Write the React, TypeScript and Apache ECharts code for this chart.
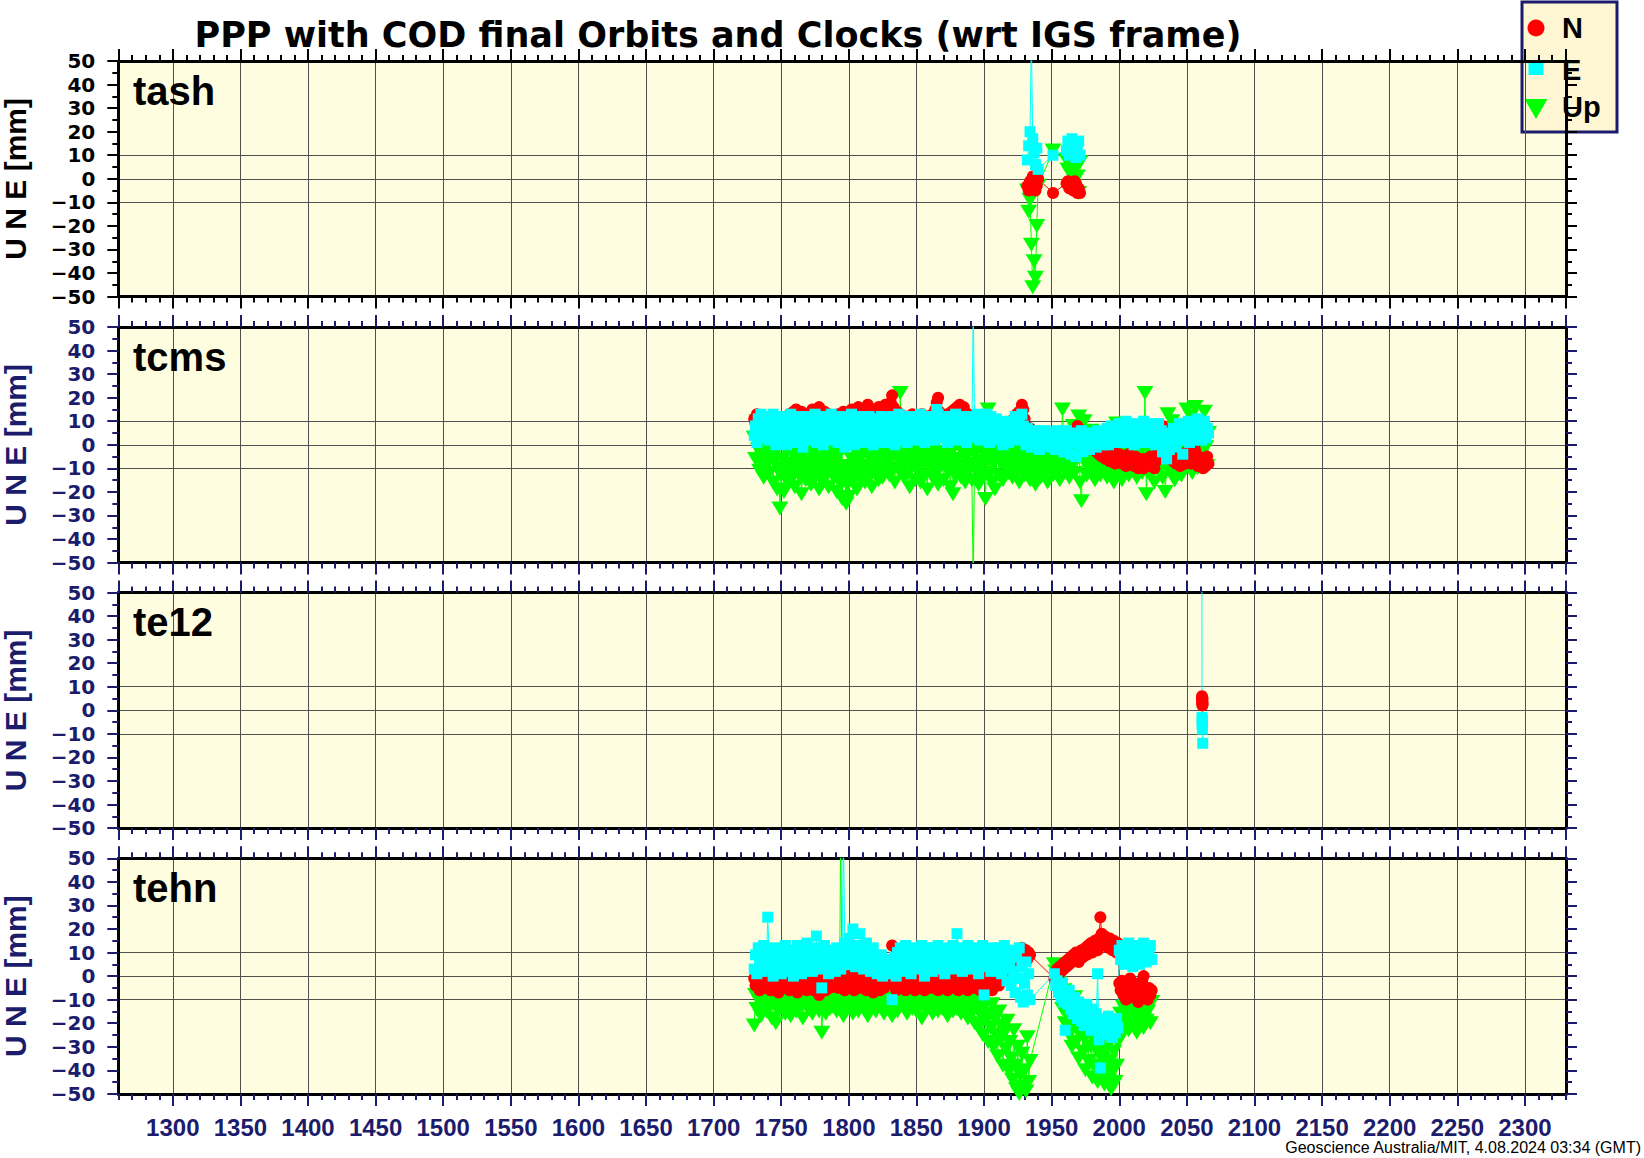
import React, { useEffect, useRef } from "react";
import * as echarts from "echarts";

// ---------------- texts ----------------
const TITLE = "PPP with COD final Orbits and Clocks (wrt IGS frame)";
const FOOTER = "Geoscience Australia/MIT, 4.08.2024 03:34 (GMT)";
const Y_NAME = "U N E [mm]";
const STATIONS = ["tash", "tcms", "te12", "tehn"];
const LEGEND_ITEMS = ["N", "E", "Up"];

// ---------------- axes ----------------
const WEEK_MIN = 1259.7;
const WEEK_MAX = 2330.4;
const MM_MIN = -50;
const MM_MAX = 50;
const MM_STEP = 10;
const MM_GRID_LINES = [-10, 0, 10];

// ---------------- data (GPS week, mm) ----------------
const seq = (start: number, step: number, count: number) =>
  Array.from({ length: count }, (_, i) => start + i * step);

// tash
const tashWeeks = [1932, 1933, 1934, 1935, 1936, 1937, 1938, 1939, 1940, 1951,
  1961, 1962, 1963, 1964, 1965, 1966, 1967, 1968, 1969, 1970, 1971];
const tashN = [-3, -5, -1, -4, 1, -2, -5, -3, 0, -6,
  -2, -1, -4, -2, -3, -5, -1, -2, -6, -4, -6];
const tashE = [8, 14, 20, 60, 17, 11, 6, 13, 4, 10,
  12, 16, 10, 14, 17, 11, 15, 9, 13, 16, 10];
const tashUp = [-5, -14, -9, -28, -46, -35, -42, -20, -3, 12,
  8, 4, 10, 2, 6, -3, 9, 5, 1, -6, 7];

// tcms (weekly from 1730)
const tcmsStart = 1730;
const tcmsStep = 1;
const tcmsN = [
  11, 9, 13, 8, 10, 6, 9, 12, 7, 10,
  8, 11, 6, 9, 12, 7, 10, 5, 9, 11,
  6, 9, 4, 8, 11, 7, 13, 9, 6, 14,
  10, 15, 12, 8, 11, 14, 9, 12, 7, 10,
  13, 9, 11, 15, 10, 8, 14, 11, 16, 9,
  12, 10, 14, 8, 11, 13, 9, 12, 10, 7,
  11, 9, 13, 10, 7, 12, 14, 8, 11, 9,
  13, 10, 15, 12, 9, 14, 11, 16, 10, 13,
  12, 15, 11, 14, 17, 12, 10, 15, 13, 11,
  14, 12, 16, 13, 10, 15, 12, 17, 14, 11,
  15, 18, 21, 16, 13, 11, 14, 10, 12, 9,
  11, 8, 12, 10, 7, 11, 9, 13, 8, 10,
  9, 12, 7, 10, 13, 8, 11, 9, 12, 6,
  10, 8, 13, 11, 15, 18, 20, 14, 11, 9,
  12, 8, 10, 13, 11, 9, 14, 12, 15, 10,
  16, 13, 17, 15, 12, 16, 14, 11, 13, 10,
  9, 12, 8, 11, 10, 7, 12, 9, 11, 8,
  10, 7, 9, 12, 8, 6, 10, 8, 5, 9,
  7, 4, 8, 6, 3, 7, 5, 9, 6, 8,
  10, 7, 11, 9, 13, 10, 14, 12, 17, 15,
  11, 8, 6, 4, 7, 3, 5, 2, 4, 1,
  3, 0, 2, 4, 1, -1, 3, 0, 2, 1,
  0, 2, -1, 1, 3, 0, -2, 2, 1, -1,
  1, 3, 0, 2, 4, 1, 5, 3, 6, 8,
  7, 4, 5, 2, 3, 1, 4, 0, 2, -1,
  1, -2, 0, -3, -1, -4, -2, -5, -3, -4,
  -6, -3, -5, -7, -4, -6, -3, -8, -5, -7,
  -4, -6, -8, -5, -7, -9, -6, -4, -8, -6,
  -7, -9, -5, -8, -10, -7, -9, -6, -10, -8,
  -6, -9, -7, -5, -8, -6, -10, -7, -4, -6,
  3, 6, 8, 5, 2, -3, -5, -2, -6, -4,
  -7, -5, -8, -3, -6, -9, -4, -7, -5, -8,
  -3, -6, -4, -8, -5, -7, -2, -6, -9, -5,
  -8, -6, -10, -7, -9, -5, -8,
];
const tcmsE = [
  4, 8, 1, 11, 6, 13, 3, 9, 5, 12,
  7, 2, 10, 5, 13, 8, 0, 11, 4, 9,
  6, 12, 2, 8, 0, 10, 5, 13, 3, 7,
  11, 1, 9, 4, 12, 6, -1, 8, 3, 10,
  5, 12, 2, 9, 7, 13, 1, 6, 11, 4,
  8, 0, 12, 5, 10, 3, 7, 13, 2, 9,
  6, 11, 1, 8, 4, 12, 7, -1, 10, 5,
  9, 2, 13, 6, 0, 11, 4, 8, 12, 3,
  7, 10, 1, 9, 5, 12, 3, 8, 0, 11,
  6, 2, 10, 4, 12, 7, 1, 9, 5, 11,
  3, 8, 12, 6, 0, 10, 4, 13, 7, 2,
  9, 5, 11, 1, 8, 12, 4, 10, 6, 2,
  11, 7, 3, 13, 5, 9, 1, 12, 6, 10,
  4, 8, 12, 2, 9, 15, 13, 6, 10, 3,
  11, 5, 8, 1, 12, 7, 3, 10, 6, 13,
  2, 9, 5, 11, 4, 12, 8, 1, 10, 6,
  12, 3, 60, 9, 5, 13, 7, 2, 11, 6,
  10, 4, 13, 8, 1, 12, 6, 9, 3, 11,
  7, 2, 9, 5, 0, 8, 4, 10, 1, 6,
  3, 9, 5, 12, 7, 2, 10, 6, 13, 8,
  5, 0, 7, 3, 6, -1, 4, 2, 6, 1,
  4, -2, 5, 1, 3, 6, 0, 4, -1, 3,
  5, 1, 3, -2, 6, 2, 4, 0, 5, -3,
  2, 6, 0, 4, -4, 3, 1, 5, -5, 2,
  4, 0, 6, -3, 2, 5, 1, 3, -2, 4,
  0, 5, 2, -1, 6, 3, 1, 4, 0, 5,
  2, 7, 0, 4, 8, 2, 5, 1, 6, 3,
  9, 4, 7, 1, 6, 10, 3, 8, 2, 5,
  9, 0, 6, 3, 8, 1, 7, 4, 10, 2,
  6, 9, 1, 5, 8, 3, 7, 0, 4, 9,
  2, 6, -3, 4, 0, -6, 3, -2, 5, 1,
  7, 3, -1, 5, 9, 2, 6, -4, 4, 8,
  3, 10, 1, 6, 9, 2, 7, 4, 11, 5,
  8, 2, 6, 10, 3, 7, 5,
];
const tcmsUp = [
  3, -6, 10, -2, -11, 1, -8, -14, -4, -9,
  -1, -12, -5, 0, -16, -7, -3, -19, -10, -27,
  -13, -6, -20, -2, -11, -16, 2, -8, -14, -4,
  -18, -9, -1, -13, -6, -21, -10, -3, -15, -7,
  -12, -2, -17, -8, -4, -14, 0, -11, -19, -6,
  -9, -15, -3, -12, -7, -18, -1, -10, -5, -14,
  -8, -20, -11, -4, -16, -23, -9, -13, -25, -17,
  -22, -10, -6, -15, -2, -12, -19, -7, -14, -4,
  -11, -3, -16, -9, -1, -13, -6, -18, -8, -2,
  -12, -5, -15, 3, -9, -14, -4, -10, -7, -1,
  -13, -6, -2, -10, -16, -5, 0, -11, 22, -8,
  -3, -14, -7, -1, -12, -18, -5, -9, -2, -15,
  -6, -11, -1, -16, -8, -3, -13, -7, -19, -4,
  -10, -2, -14, -6, 0, -12, -17, -5, -9, -3,
  -15, -7, 2, -11, -4, -18, -8, -21, -1, -13,
  -6, -10, 0, -14, -3, -9, -16, -5, -12, -2,
  -8, -15, -60, -4, -11, -1, -17, -7, -13, -3,
  -9, -23, -5, 15, -12, -2, -16, -8, -19, -6,
  -3, -13, -7, -1, -15, -5, -10, -2, -12, -8,
  -4, -14, -9, -1, -11, -6, -16, -3, -10, -7,
  -13, -2, -9, -5, -15, -1, -11, -7, -17, -4,
  -10, -3, -14, -6, -1, -12, -8, -16, -2, -9,
  -5, -13, 1, -8, -3, -11, -15, -6, 15, -2,
  -10, 5, -7, -14, -1, -9, 8, -12, -4, -6,
  12, -16, -24, -3, 10, -8, -13, -1, -7, 6,
  -11, -4, -15, -2, -9, 3, -13, -6, -1, -10,
  -5, -14, 2, -8, -3, -11, -16, -6, 9, -12,
  -2, -9, -15, -4, 1, -10, -7, -13, -3, -8,
  -11, -1, -6, -14, 5, -9, -2, -12, -5, 22,
  -21, -7, -3, -13, 0, -10, -16, -6, -1, -11,
  -8, 4, -14, -3, -20, -9, 13, -6, -12, 10,
  -2, -15, -7, 0, -11, -4, -13, -1, -8, -5,
  15, -9, -3, 12, -12, -6, 16, -2, -10, 8,
  -4, 3, -7, 14, -1, -9, 5,
];

// te12
const te12Weeks = [2061.1, 2061.2, 2061.3, 2061.4, 2061.5, 2061.6, 2061.7];
const te12N = [5, 6, 3, 4, 2, 5, 3];
const te12E = [70, -3, -6, -5, -8, -4, -14];
const te12Up: number[] = [];

// tehn (weekly, two spans)
const tehnSpan1 = { start: 1730, count: 205 };
const tehnSpan2 = { start: 1952, count: 73 };
const tehnStep = 1;
const tehnN = [
  -1, -4, 0, -3, -6, -2, 1, -5, -3, -1,
  -4, -2, -6, 0, -3, -5, -1, -4, -7, -2,
  0, -3, -5, -1, -4, 1, -6, -2, -3, -5,
  -1, -4, -7, -2, 0, -3, -5, -1, -4, -6,
  -2, 0, -4, -3, -6, -1, -5, -2, -8, -3,
  -1, -4, -2, -6, 0, -3, -5, -1, -4, -2,
  1, -3, -5, -2, 0, -4, -1, -6, -3, 0,
  -2, -5, -1, -3, -6, 0, -4, -2, -5, -1,
  -3, 0, -4, -6, -2, -1, -5, -3, -7, -2,
  -4, -1, -3, -6, 0, -2, -5, -4, -1, -3,
  -2, 7, 13, -1, -4, -6, -2, -5, -3, -1,
  -4, -2, -6, -3, 0, -5, -1, -4, -2, -6,
  -3, -1, -5, -2, -4, 0, -6, -3, -1, -4,
  -2, -5, -3, 0, -4, -1, -6, -2, -3, -5,
  -1, -4, -2, -6, -3, 0, -5, -2, -4, -1,
  -3, -6, -2, -4, 0, -5, -1, -3, -6, -2,
  -4, -1, -3, -5, -2, 0, -4, -6, -1, -3,
  -2, -5, 0, -3, -1, -4, -6, -2, -3, 0,
  -2, -4, 1, -1, 3, 0, 5, 2, 7, 4,
  6, 9, 5, 8, 11, 7, 10, 6, 12, 9,
  8, 11, 7, 10, 9,
  -1, 1, 3, 0, 4, 2, 5, 3, 6, 4,
  7, 5, 8, 6, 9, 7, 10, 8, 6, 9,
  11, 8, 10, 12, 9, 13, 11, 14, 10, 12,
  15, 13, 11, 16, 25, 18, 14, 17, 13, 15,
  12, 16, 14, 11, 15, 13, 10, 14, -3, -6,
  -2, -8, -5, -10, -4, -7, -1, -9, -6, -3,
  -8, -5, -11, -4, -7, -2, 0, -9, -6, -10,
  -5, -8, -6,
];
const tehnE = [
  3, 9, 1, 12, 6, 10, 2, 13, 7, 4,
  25, 11, 5, 8, 0, 12, 6, 3, 10, 7,
  1, 9, 5, 13, 2, 8, 11, 4, 7, 0,
  10, 6, 13, 3, 8, 1, 11, 5, 9, 14,
  4, 12, 7, 2, 10, 6, 17, 3, 9, 12,
  -5, 8, 13, 4, 10, 1, 7, 11, 5, 9,
  2, 12, 6, 10, 3, 8, 60, 14, 5, 11,
  16, 7, 12, 20, 9, 4, 13, 8, 18, 6,
  11, 3, 9, 14, 5, 10, 2, 7, 12, 4,
  8, 1, 6, 3, 9, 0, 5, 2, 7, 4,
  1, 6, -10, 3, 8, 0, 10, 5, 12, 7,
  2, 9, 13, 4, 11, 6, 1, 10, 7, 12,
  5, 11, 3, 8, 13, 6, 0, 9, 12, 4,
  10, 7, 2, 12, 5, 9, 13, 3, 8, 11,
  6, 1, 10, 4, 12, 7, 9, 13, 3, 8,
  18, 11, 5, 10, 2, 12, 7, 9, 13, 4,
  8, 11, 3, 10, 6, 12, 1, 9, 5, 13,
  -8, 7, 11, 4, 9, 2, 12, 6, 10, 3,
  8, 12, 5, 1, 9, 13, 3, -2, 10, 6,
  -4, 11, 2, -7, 8, -1, 12, -9, 4, -11,
  -3, 6, -8, 1, -10,
  1, -4, -2, -7, -5, -9, -3, -11, -23, -8,
  -12, -6, -14, -10, -16, -9, -13, -18, -11, -15,
  -19, -13, -21, -16, -12, -20, -17, -23, -14, -19,
  -22, -16, 1, -27, -39, -20, -24, -18, -25, -21,
  -17, -23, -19, -26, -21, -24, -18, -22, 11, 7,
  13, 9, 5, 12, 8, 14, 6, 10, 4, 11,
  7, 13, 9, 5, 12, 8, 14, 10, 6, 11,
  9, 13, 7,
];
const tehnUp = [
  -21, -8, -14, -5, -11, -17, -7, -12, -9, -15,
  -6, -13, -10, -18, -4, -12, -20, -8, -15, -11,
  -7, -14, -9, -16, -5, -12, -8, -17, -10, -13,
  -6, -15, -11, -4, -13, -9, -18, -7, -12, -10,
  -14, -6, -11, -16, -8, -13, -5, -10, -15, -7,
  -24, -12, -9, -16, -6, -11, -14, -8, -13, -5,
  -10, -15, -7, -12, 60, -9, -17, -6, -11, -14,
  -8, -13, -5, -16, -10, -7, -12, -15, -9, -4,
  -11, -14, -6, -10, -17, -8, -13, -5, -12, -9,
  -15, -7, -11, -4, -13, -9, -16, -6, -10, -12,
  -8, -14, -17, -5, -11, -9, -15, -7, -12, -10,
  -6, -13, -9, -16, -8, -11, -5, -14, -10, -12,
  -15, -7, -12, -9, -18, -6, -11, -14, -8, -10,
  -13, -5, -16, -9, -12, -7, -15, -11, -6, -14,
  -10, -8, -13, -17, -6, -11, -9, -15, -7, -12,
  -14, -9, -6, -16, -11, -8, -13, -10, -18, -7,
  -12, -15, -9, -20, -6, -14, -22, -11, -17, -25,
  -13, -19, -8, -28, -16, -22, -12, -30, -18, -25,
  -34, -15, -27, -21, -38, -24, -31, -19, -40, -28,
  -35, -44, -23, -38, -48, -30, -50, -42, -33, -47,
  -40, -49, -26, -45, -36,
  5, 2, 4, -3, -8, 0, -14, -6, -20, -11,
  -17, -25, -13, -30, -21, -9, -28, -18, -35, -24,
  -15, -32, -26, -40, -22, -36, -19, -30, -43, -27,
  -38, -24, -45, -33, -29, -41, -35, -46, -31, -39,
  -44, -36, -48, -40, -32, -45, -38, -28, -22, -16,
  -25, -13, -20, -18, -11, -23, -15, -19, -12, -21,
  -16, -24, -14, -20, -10, -17, -22, -13, -19, -15,
  -12, -20, -11,
];

const tcmsWeeks = seq(tcmsStart, tcmsStep, tcmsN.length);
const tehnWeeks = [
  ...seq(tehnSpan1.start, tehnStep, tehnSpan1.count),
  ...seq(tehnSpan2.start, tehnStep, tehnSpan2.count),
];

// ---------------- styles ----------------
const NAVY = "#1c1c6c";
const GRID_COLOR = "#505050";
const PLOT_BG = "#fffde0";
const GRID_TOPS = [61, 327, 592.5, 858.3];
const GRID_H = 235.6;
const GRID_LEFT = 118.3;
const GRID_RIGHT = 78;

const COMP_STYLE: Record<string, any> = {
  Up: { color: "#00ff00", symbol: "triangle", symbolSize: [17, 14], symbolRotate: 180 },
  N: { color: "#ff0000", symbol: "circle", symbolSize: 12 },
  E: { color: "#00ffff", symbol: "rect", symbolSize: 11 },
};
const DRAW_ORDER = ["Up", "N", "E"];

function buildOption() {
  const stationData = [
    { weeks: tashWeeks, N: tashN, E: tashE, Up: tashUp },
    { weeks: tcmsWeeks, N: tcmsN, E: tcmsE, Up: tcmsUp },
    { weeks: te12Weeks, N: te12N, E: te12E, Up: te12Up },
    { weeks: tehnWeeks, N: tehnN, E: tehnE, Up: tehnUp },
  ];

  const mmTicks: number[] = [];
  for (let v = MM_MIN; v <= MM_MAX; v += MM_STEP) mmTicks.push(v);
  const hLineColors = mmTicks.map((v) => (MM_GRID_LINES.includes(v) ? GRID_COLOR : "rgba(0,0,0,0)"));

  const grid = GRID_TOPS.map((top) => ({
    left: GRID_LEFT,
    right: GRID_RIGHT,
    top,
    height: GRID_H,
    show: true,
    backgroundColor: PLOT_BG,
    borderWidth: 0,
    containLabel: false,
    outerBoundsMode: "none",
  }));

  const xAxis: any[] = [];
  const yAxis: any[] = [];
  const series: any[] = [];

  STATIONS.forEach((_, i) => {
    const ink = i === 0 ? "#000" : NAVY;
    const baseX = {
      gridIndex: i,
      type: "value",
      min: WEEK_MIN,
      max: WEEK_MAX,
      axisLine: { show: false, onZero: false },
      axisLabel: { show: false },
      splitLine: { show: false },
      axisTick: { show: false },
      minorTick: { show: false },
      silent: true,
    };
    const major = (position: string) => ({
      ...baseX,
      position,
      splitNumber: 21,
      axisLine: { show: true, onZero: false, lineStyle: { color: "#000", width: 3 } },
      axisTick: { show: true, inside: false, length: 12, lineStyle: { color: ink, width: 2 } },
    });
    const minor = (position: string) => ({
      ...baseX,
      position,
      splitNumber: 107,
      axisTick: { show: true, inside: false, length: 6, lineStyle: { color: ink, width: 2 } },
    });
    const bottom: any = major("bottom");
    bottom.splitLine = { show: true, lineStyle: { color: GRID_COLOR, width: 1 } };
    if (i === STATIONS.length - 1) {
      bottom.axisLabel = {
        show: true,
        showMinLabel: false,
        showMaxLabel: false,
        margin: 22,
        color: NAVY,
        fontFamily: "Liberation Sans",
        fontWeight: "bold",
        fontSize: 24,
        formatter: (v: number) => String(Math.round(v)),
      };
    }
    xAxis.push(bottom, minor("bottom"), major("top"), minor("top"));

    const baseY = {
      gridIndex: i,
      type: "value",
      min: MM_MIN,
      max: MM_MAX,
      interval: MM_STEP,
      silent: true,
      axisLine: { show: true, onZero: false, lineStyle: { color: "#000", width: 3 } },
      axisTick: { show: true, inside: false, length: 11, lineStyle: { color: ink, width: 2 } },
      minorTick: { show: true, splitNumber: 2, length: 6, lineStyle: { color: ink, width: 2 } },
    };
    yAxis.push({
      ...baseY,
      position: "left",
      axisLabel: {
        show: true,
        margin: 23,
        color: ink,
        fontFamily: "DejaVu Sans",
        fontWeight: "bold",
        fontSize: 20,
        formatter: (v: number) => (v < 0 ? "\u2212" + Math.abs(v) : String(v)),
      },
      splitLine: { show: true, lineStyle: { color: hLineColors, width: 1 } },
    });
    yAxis.push({
      ...baseY,
      position: "right",
      axisLabel: { show: false },
      splitLine: { show: false },
    });

    const d: any = stationData[i];
    DRAW_ORDER.forEach((comp) => {
      const st = COMP_STYLE[comp];
      const vals: number[] = d[comp];
      series.push({
        type: "line",
        name: comp,
        xAxisIndex: i * 4,
        yAxisIndex: i * 2,
        data: vals.map((v, k) => [d.weeks[k], v]),
        symbol: st.symbol,
        symbolSize: st.symbolSize,
        symbolRotate: st.symbolRotate || 0,
        showSymbol: true,
        showAllSymbol: true,
        itemStyle: { color: st.color, borderWidth: 0 },
        lineStyle: { color: st.color, width: 1 },
        emphasis: { disabled: true },
        silent: true,
        clip: true,
        animation: false,
      });
    });
  });

  const graphic: any[] = [];
  graphic.push({
    type: "text",
    x: 718,
    y: 35,
    style: {
      text: TITLE,
      fill: "#000",
      font: 'bold 35px "DejaVu Sans"',
      align: "center",
      verticalAlign: "middle",
    },
  });
  STATIONS.forEach((name, i) => {
    const ink = i === 0 ? "#000" : NAVY;
    graphic.push({
      type: "text",
      x: 133,
      y: GRID_TOPS[i] + 29.5,
      z: 100,
      style: {
        text: name,
        fill: "#000",
        font: 'bold 40px "Liberation Sans"',
        align: "left",
        verticalAlign: "middle",
      },
    });
    graphic.push({
      type: "text",
      x: 15,
      y: GRID_TOPS[i] + GRID_H / 2,
      rotation: Math.PI / 2,
      style: {
        text: Y_NAME,
        fill: ink,
        font: 'bold 30px "Liberation Sans"',
        align: "center",
        verticalAlign: "middle",
      },
    });
  });
  graphic.push({
    type: "text",
    x: 1641,
    y: 1147.5,
    style: {
      text: FOOTER,
      fill: "#000",
      font: '16px "Liberation Sans"',
      align: "right",
      verticalAlign: "middle",
    },
  });

  // legend box
  const legendChildren: any[] = [
    {
      type: "rect",
      shape: { x: 1522, y: 2, width: 95, height: 130 },
      style: { fill: "#fff6d3", stroke: NAVY, lineWidth: 3 },
    },
    { type: "circle", shape: { cx: 1536, cy: 28, r: 8.5 }, style: { fill: COMP_STYLE.N.color } },
    { type: "rect", shape: { x: 1528.5, y: 60, width: 15, height: 15 }, style: { fill: COMP_STYLE.E.color } },
    {
      type: "polygon",
      shape: { points: [[1524.5, 99], [1547.5, 99], [1536, 119]] },
      style: { fill: COMP_STYLE.Up.color },
    },
  ];
  const legendY = [28, 70, 107];
  LEGEND_ITEMS.forEach((t, k) => {
    legendChildren.push({
      type: "text",
      x: 1562,
      y: legendY[k],
      style: { text: t, fill: "#000", font: 'bold 29px "Liberation Sans"', align: "left", verticalAlign: "middle" },
    });
  });
  graphic.push({ type: "group", z: 200, children: legendChildren });

  return {
    animation: false,
    backgroundColor: "#ffffff",
    grid,
    xAxis,
    yAxis,
    series,
    graphic,
  };
}

export default function App() {
  const ref = useRef<HTMLDivElement>(null);
  useEffect(() => {
    if (!ref.current) return;
    const chart = echarts.init(ref.current, null, { renderer: "svg" });
    chart.setOption(buildOption() as any);
    return () => chart.dispose();
  }, []);
  return (
    <div
      ref={ref}
      style={{ position: "absolute", left: 0, top: 0, width: 1644, height: 1158 }}
    />
  );
}
